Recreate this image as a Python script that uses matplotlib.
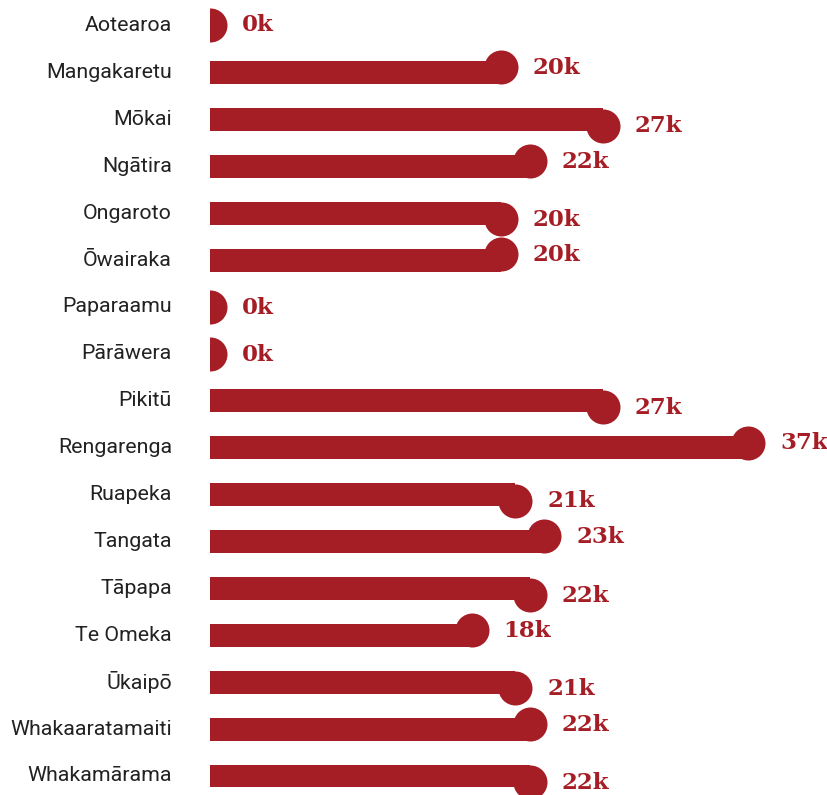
import numpy as np
import matplotlib
matplotlib.use("Agg")
import matplotlib.pyplot as plt

# data (thousands)
names = ["Aotearoa", "Mangakaretu", "Mōkai", "Ngātira", "Ongaroto", "Ōwairaka",
         "Paparaamu", "Pārāwera", "Pikitū", "Rengarenga", "Ruapeka", "Tangata",
         "Tāpapa", "Te Omeka", "Ūkaipō", "Whakaaratamaiti", "Whakamārama"]
values = [0, 20, 27, 22, 20, 20, 0, 0, 27, 37, 21, 23, 22, 18, 21, 22, 22]
labels = ["0k", "20k", "27k", "22k", "20k", "20k", "0k", "0k", "27k", "37k",
          "21k", "23k", "22k", "18k", "21k", "22k", "22k"]
# vertical shift of each end dot (row units)
dot_shift = [-0.02, -0.12, 0.13, -0.11, 0.13, -0.13, 0.0, 0.0, 0.13, -0.11,
             0.13, -0.11, 0.14, -0.11, 0.13, -0.11, 0.13]

red = "#a61e25"

fig = plt.figure(figsize=(8.27, 7.95), dpi=100)
ax = fig.add_axes([210 / 827, 0, 1 - 210 / 827, 1])

y = np.arange(len(names))
ax.barh(y, values, height=0.49, color=red, linewidth=0)

dot_y = y + np.array(dot_shift)
ax.scatter(values, dot_y, s=600, color=red, linewidths=0, zorder=3)

for v, yy, lab in zip(values, dot_y, labels):
    ax.annotate(lab, (v, yy), xytext=(23, -0.5), textcoords="offset points",
                ha="left", va="center", color=red, fontsize=16.5,
                fontweight="bold", family="DejaVu Serif")

# category names left of the bars
for yy, name in zip(y, names):
    ax.annotate(name, (0, yy), xytext=(-27.4, 1.5), textcoords="offset points",
                ha="right", va="center_baseline", family="Roboto",
                fontsize=15.4, color="#222222", annotation_clip=False)

ax.set_xlim(0, 617 / 14.54)
ax.set_ylim(16.405, -0.546)
ax.set_xticks([])
ax.set_yticks([])
for s in ax.spines.values():
    s.set_visible(False)

fig.savefig("out.png", dpi=100)
